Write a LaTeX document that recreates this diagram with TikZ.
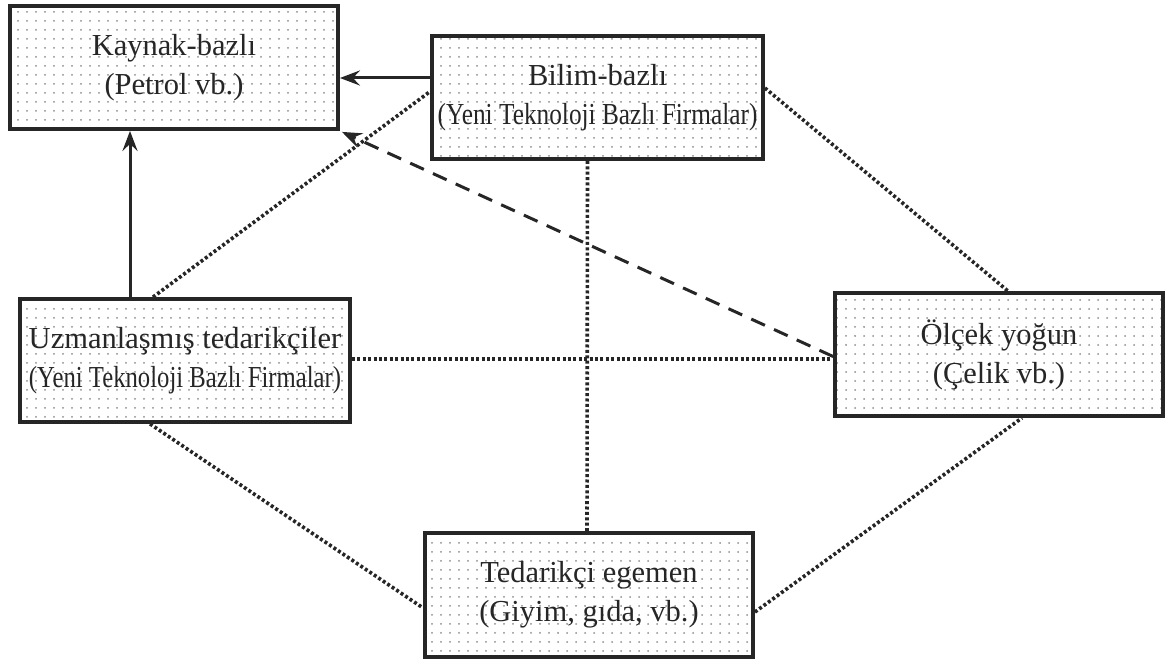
\documentclass[tikz,border=0pt]{standalone}
\usepackage{fontspec}
\setmainfont{Liberation Serif}
\usetikzlibrary{arrows.meta,patterns.meta}
\definecolor{ink}{HTML}{262626}
\definecolor{dotgray}{HTML}{8E8E8E}
\tikzset{
  sector/.style={draw=ink, line width=3.8pt, pattern={Dots[radius=1pt,distance=9pt]},
    pattern color=dotgray, minimum width=#1, minimum height=123pt, inner sep=0pt,
    align=center, text=ink, font=\fontsize{30.5pt}{39pt}\selectfont},
  sector/.default=330pt,
  flow/.style={draw=ink, line width=3pt, -{Stealth[length=20pt,width=15pt,inset=7pt]}},
  weak/.style={draw=ink, line width=3.6pt, dash pattern=on 3pt off 2.4pt},
  trend/.style={draw=ink, line width=3pt, dash pattern=on 15pt off 10pt,
    -{Stealth[length=20pt,width=15pt,inset=7pt]}},
}
\begin{document}
\begin{tikzpicture}[x=1pt,y=-1pt]
  \useasboundingbox (0,0) rectangle (1165,660);

  % the five firm categories
  \node[sector=328pt] (K) at (174,67.5) {Kaynak-bazlı\\(Petrol vb.)};
  \node[sector=331pt] (B) at (597.5,97.5)
    {Bilim-bazlı\\\scalebox{0.83}[1]{(Yeni Teknoloji Bazlı Firmalar)}};
  \node[sector=330pt] (U) at (185,360.5)
    {Uzmanlaşmış tedarikçiler\\\scalebox{0.81}[1]{(Yeni Teknoloji Bazlı Firmalar)}};
  \node[sector=328pt] (O) at (999,354.5) {Ölçek yoğun\\(Çelik vb.)};
  \node[sector=328pt, minimum height=124pt] (T) at (589,595)
    {Tedarikçi egemen\\(Giyim, gıda, vb.)};

  % weak links
  \draw[weak] ([xshift=-32pt]U.north) -- ([yshift=6pt]B.west);
  \draw[weak] ([yshift=9.5pt]B.east) -- ([xshift=9pt]O.north);
  \draw[weak] ([xshift=-10pt]B.south) -- ([xshift=-2pt]T.north);
  \draw[weak] ([yshift=1.5pt]U.east) -- ([yshift=-4.5pt]O.west);
  \draw[weak] ([xshift=-35pt]U.south) -- ([yshift=-13pt]T.west);
  \draw[weak] ([yshift=-17pt]T.east) -- ([xshift=23pt]O.south);

  % direct flows
  \draw[flow] ([yshift=19.5pt]B.west) -- ([yshift=-10.5pt]K.east);
  \draw[flow] ([xshift=-55pt]U.north) -- ([xshift=-44pt]K.south);
  \draw[trend] ([yshift=-2pt]O.west) -- ([xshift=2pt,yshift=-1pt]K.south east);
\end{tikzpicture}
\end{document}
